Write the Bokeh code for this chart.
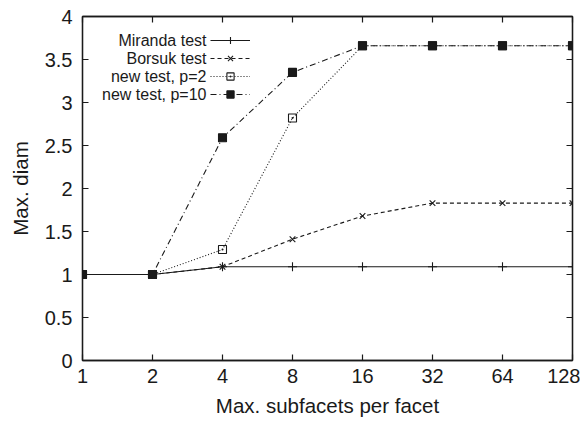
from bokeh.plotting import figure
from bokeh.models import (FixedTicker, LinearAxis, LogAxis, Legend, LegendItem,
                          Label, Range1d)
from bokeh.embed import file_html
from bokeh.resources import INLINE

# ---- data ----
x_vals = [1, 2, 4, 8, 16, 32, 64, 128]
miranda = [1.0, 1.0, 1.09, 1.09, 1.09, 1.09, 1.09, 1.09]
borsuk = [1.0, 1.0, 1.09, 1.41, 1.68, 1.83, 1.83, 1.83]
new_p2 = [1.0, 1.0, 1.29, 2.82, 3.66, 3.66, 3.66, 3.66]
new_p10 = [1.0, 1.0, 2.59, 3.35, 3.66, 3.66, 3.66, 3.66]
x_ticks = [1, 2, 4, 8, 16, 32, 64, 128]
x_tick_labels = ["1", "2", "4", "8", "16", "32", "64", "128"]
y_ticks = [0, 0.5, 1, 1.5, 2, 2.5, 3, 3.5, 4]
y_tick_labels = ["0", "0.5", "1", "1.5", "2", "2.5", "3", "3.5", "4"]
series_labels = ["Miranda test", "Borsuk test", "new test, p=2", "new test, p=10"]

FONT = "Liberation Sans"
INK = "#1a1a1a"

p = figure(width=580, height=423, x_axis_type="log",
           x_range=Range1d(1, 128), y_range=Range1d(0, 4),
           output_backend="svg", toolbar_location=None,
           min_border_left=82, min_border_right=8,
           min_border_top=16, min_border_bottom=63)
p.xgrid.visible = False
p.ygrid.visible = False
p.outline_line_color = INK
p.outline_line_width = 1.3
p.background_fill_color = "white"
p.border_fill_color = "white"

def style_axis(ax, labels=True):
    ax.axis_line_color = INK
    ax.axis_line_width = 1.3
    ax.major_tick_in = 6
    ax.major_tick_out = 0
    ax.minor_tick_in = 0
    ax.minor_tick_out = 0
    ax.major_tick_line_color = INK
    ax.major_tick_line_width = 1.2
    ax.major_label_text_font = FONT
    ax.major_label_text_font_size = "20px"
    ax.major_label_text_color = INK
    ax.axis_label_text_font = FONT
    ax.axis_label_text_font_size = "20.5px"
    ax.axis_label_text_font_style = "normal"
    ax.axis_label_text_color = INK
    if not labels:
        ax.major_label_text_font_size = "0px"
        ax.major_label_text_alpha = 0

xo = {v: s for v, s in zip(x_ticks, x_tick_labels)}
yo = {v: s for v, s in zip(y_ticks, y_tick_labels)}

p.xaxis.ticker = FixedTicker(ticks=x_ticks)
p.yaxis.ticker = FixedTicker(ticks=y_ticks)
p.xaxis.major_label_overrides = xo
p.yaxis.major_label_overrides = yo
style_axis(p.xaxis[0])
style_axis(p.yaxis[0])
p.xaxis.axis_label = "Max. subfacets per facet"
p.yaxis.axis_label = "Max. diam"
p.xaxis.major_label_standoff = 8
p.yaxis.major_label_standoff = 10
p.xaxis.axis_label_standoff = 8
p.yaxis.axis_label_standoff = 10

top_ax = LogAxis(ticker=FixedTicker(ticks=x_ticks))
style_axis(top_ax, labels=False)
p.add_layout(top_ax, "above")
right_ax = LinearAxis(ticker=FixedTicker(ticks=y_ticks))
style_axis(right_ax, labels=False)
p.add_layout(right_ax, "right")

# ---- series ----
styles = [
    dict(dash="solid", marker="cross", size=9, fill=INK),
    dict(dash="4 3", marker="x", size=8, fill=INK),
    dict(dash="1 2", marker="square_dot", size=8, fill=None),
    dict(dash="6 3 1 3", marker="square", size=8, fill=INK),
]
series = [miranda, borsuk, new_p2, new_p10]
items = []
for ys, st, lab in zip(series, styles, series_labels):
    lr = p.line(x_vals, ys, line_color=INK, line_width=1.1, line_dash=st["dash"])
    sr = p.scatter(x_vals, ys, marker=st["marker"], size=st["size"],
                   line_color=INK, line_width=1.1,
                   fill_color=st["fill"] if st["fill"] else "white",
                   fill_alpha=1.0 if st["fill"] else 0.0)
    items.append(LegendItem(label=lab, renderers=[lr, sr]))

legend = Legend(items=items, location=(128, 257), orientation="vertical",
                glyph_width=40, glyph_height=18, label_height=18,
                spacing=0, padding=0, margin=0, label_standoff=0,
                border_line_alpha=0, background_fill_alpha=0,
                label_text_alpha=0, label_text_font_size="10px")
p.add_layout(legend, "center")

# legend texts, right aligned before the samples (gnuplot style)
for i, lab in enumerate(series_labels):
    p.add_layout(Label(x=124, y=320 - 18 * i, x_units="screen", y_units="screen",
                       text=lab, text_align="right", text_baseline="middle",
                       text_font=FONT, text_font_size="16px", text_color=INK))

open("out.html", "w").write(file_html(p, INLINE))
